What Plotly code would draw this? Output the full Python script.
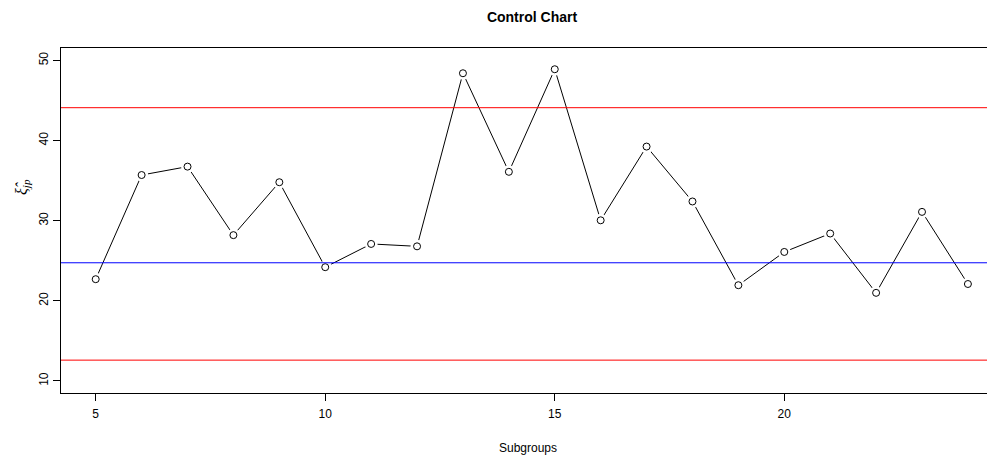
import plotly.graph_objects as go

subgroups = list(range(5, 25))
values = [22.7, 35.7, 36.75, 28.2, 34.8, 24.2, 27.1, 26.8, 48.4, 36.1,
          48.9, 30.05, 39.25, 32.4, 21.95, 26.1, 28.4, 21.0, 31.1, 22.1]
ucl = 44.1
center = 24.75
lcl = 12.6
x_ticks = [5, 10, 15, 20]
y_ticks = [10, 20, 30, 40, 50]

# page body has an 8px default margin; figure is sized to fill the rest
W, H = 987, 451
ML, MT, MB = 53, 40, 66

fig = go.Figure()
fig.add_trace(go.Scatter(x=subgroups, y=values, mode="lines",
                         line=dict(color="black", width=1), hoverinfo="skip"))
# gap mask (like R type="b")
fig.add_trace(go.Scatter(x=subgroups, y=values, mode="markers",
                         marker=dict(symbol="circle", size=13, color="white",
                                     line=dict(width=0)), hoverinfo="skip"))
fig.add_trace(go.Scatter(x=subgroups, y=values, mode="markers",
                         marker=dict(symbol="circle", size=7, color="white",
                                     line=dict(color="black", width=1))))

for yv, col in [(ucl, "#ff0000"), (center, "#0000ff"), (lcl, "#ff0000")]:
    fig.add_shape(type="line", xref="paper", yref="y", x0=0, x1=1, y0=yv, y1=yv,
                  line=dict(color=col, width=1), layer="above")

fig.update_layout(
    width=W, height=H,
    margin=dict(l=ML, r=0, t=MT, b=MB),
    plot_bgcolor="white", paper_bgcolor="white",
    showlegend=False,
    font=dict(family="Liberation Sans, Arial, sans-serif", size=12, color="black"),
    title=dict(text="<b>Control Chart</b>", x=524 / W, xanchor="center",
               y=1 - 9 / H, yanchor="middle",
               font=dict(size=14, family="Liberation Sans, Arial, sans-serif")),
    xaxis=dict(range=[4.244, 24.59], tickvals=x_ticks, ticktext=[str(v) for v in x_ticks],
               showgrid=False, zeroline=False, showline=True, linecolor="black",
               linewidth=1, mirror=True, ticks="outside", ticklen=7, tickcolor="black",
               tickfont=dict(size=12), ticklabelstandoff=3,
               title=dict(text="Subgroups", font=dict(size=12), standoff=23)),
    yaxis=dict(range=[8.5, 51.55], tickvals=y_ticks, ticktext=[str(v) for v in y_ticks],
               showgrid=False, zeroline=False, showline=True, linecolor="black",
               linewidth=1, mirror=False, ticks="outside", ticklen=7, tickcolor="black",
               tickangle=-90, tickfont=dict(size=12)),
)

fig.add_annotation(text="<i>ξ̂<sub>jp</sub></i>", xref="paper", yref="paper",
                   x=(14 - ML) / (W - ML), y=(H - MB - 179) / (H - MT - MB),
                   xanchor="center", yanchor="middle", textangle=-90, showarrow=False,
                   font=dict(size=16, family="Liberation Serif, serif"))

fig.write_html("out.html")
